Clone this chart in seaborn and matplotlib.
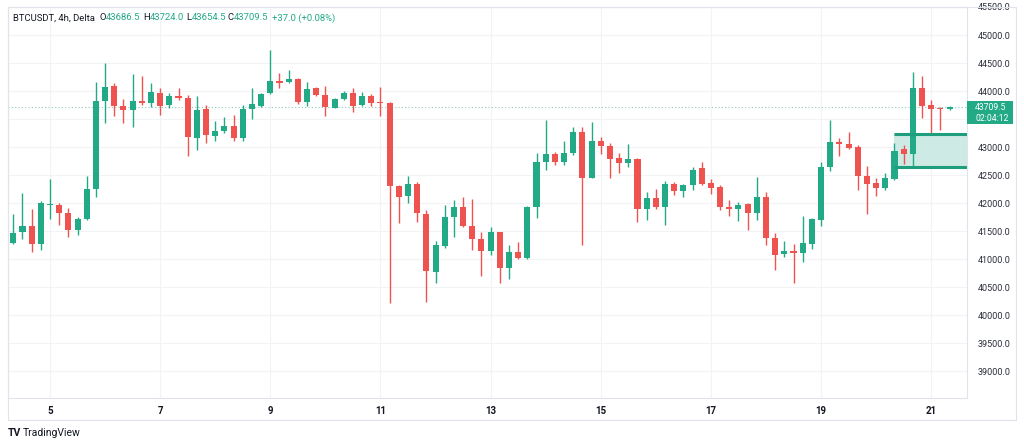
import numpy as np
import pandas as pd
import matplotlib
matplotlib.use("Agg")
import matplotlib.pyplot as plt
import seaborn as sns
from matplotlib.patches import Rectangle

#### Data (BTCUSDT 4h candles)

opens = [41285, 41482, 41589, 41268, 41964, 41964, 41821, 41518, 41714, 42250,
         43821, 44089, 43732, 43660, 43821, 43785, 43964, 43750, 43910, 43875,
         43160, 43678, 43196, 43285, 43375, 43160, 43678, 43732, 43964, 44178,
         44160, 44214, 43803, 44053, 43928, 43696, 43857, 43964, 43750, 43910,
         43803, 43785, 42303, 42125, 42339, 41803, 40768, 41232, 41750, 41928,
         41589, 41357, 41143, 41482, 40840, 41125, 41018, 41928, 42732, 42875,
         42732, 42893, 43268, 42446, 43107, 43018, 42803, 42714, 42785, 41893,
         42089, 41928, 42339, 42214, 42321, 42625, 42357, 42285, 41928, 41893,
         41982, 41821, 42107, 41375, 41089, 41143, 41107, 41268, 41696, 42643,
         43089, 43053, 43000, 42482, 42357, 42268, 42428, 42964, 42875, 44053,
         43750, 43700, 43686.5]
highs = [41803, 42178, 41893, 42035, 42428, 42000, 41911, 41750, 42482, 44160,
         44500, 44143, 43857, 44303, 44268, 44143, 44053, 43964, 44053, 43928,
         43910, 43750, 43464, 43535, 43571, 43750, 44053, 43964, 44732, 44321,
         44375, 44232, 44160, 44071, 44089, 43875, 44000, 44053, 43982, 43946,
         44071, 43800, 42321, 42482, 42375, 41875, 41321, 41964, 42053, 42107,
         42071, 41482, 41571, 41490, 41250, 41303, 41940, 42893, 43482, 42910,
         43107, 43357, 43357, 43446, 43178, 43071, 42893, 43053, 42803, 42196,
         42250, 42393, 42375, 42339, 42643, 42732, 42428, 42321, 42053, 42018,
         42000, 42464, 42196, 41464, 41321, 41268, 41768, 41732, 42732, 43482,
         43160, 43268, 43035, 42660, 42446, 42535, 43071, 43035, 44339, 44268,
         43839, 43714, 43724.0]
lows = [41268, 41357, 41125, 41161, 41714, 41607, 41393, 41428, 41696, 42107,
        43428, 43553, 43428, 43357, 43750, 43714, 43571, 43696, 43839, 42839,
        42946, 43071, 43107, 43250, 43107, 43107, 43500, 43720, 43946, 44053,
        44143, 43768, 43732, 43910, 43553, 43690, 43839, 43625, 43732, 43732,
        43553, 40214, 41643, 42000, 41661, 40232, 40571, 41196, 41393, 41571,
        41161, 40696, 41071, 40571, 40643, 41000, 41000, 41732, 42589, 42678,
        42678, 42857, 41250, 42440, 42875, 42446, 42536, 42643, 41661, 41696,
        41893, 41607, 42143, 42107, 42232, 42321, 42160, 41875, 41768, 41678,
        41518, 41696, 41250, 40804, 41036, 40571, 40946, 41178, 41589, 42571,
        42839, 42964, 42232, 41803, 42125, 42232, 42410, 42696, 42643, 43518,
        43250, 43303, 43654.5]
closes = [41464, 41589, 41268, 42000, 41982, 41821, 41518, 41714, 42250, 43821,
          44071, 43732, 43660, 43821, 43785, 43982, 43732, 43910, 43875, 43178,
          43660, 43214, 43285, 43375, 43160, 43678, 43768, 43946, 44178, 44143,
          44214, 43803, 44035, 43928, 43714, 43857, 43964, 43732, 43910, 43785,
          43785, 42303, 42107, 42339, 41821, 40786, 41250, 41750, 41928, 41589,
          41357, 41143, 41482, 40840, 41125, 41018, 41928, 42732, 42875, 42732,
          42893, 43268, 42446, 43107, 43018, 42785, 42714, 42785, 41893, 42089,
          41928, 42339, 42214, 42321, 42589, 42339, 42268, 41928, 41893, 41964,
          41821, 42107, 41375, 41071, 41143, 41107, 41285, 41714, 42643, 43089,
          43053, 42982, 42482, 42339, 42268, 42446, 42928, 42875, 44053, 43732,
          43678, 43672.5, 43709.5]

first_day = 4 + 8 / 24          # first candle: day 4, 08:00
day_ticks = [5, 7, 9, 11, 13, 15, 17, 19, 21]
price_ticks = list(range(39000, 45501, 500))
hidden_tick = 43500             # covered by the last price badge

zone_start = 96                 # candle index where the zone begins
zone_low, zone_high = 42640, 43240
last_price = 43709.5
countdown = "02:04:12"

UP = "#22a985"
DOWN = "#ef5350"
TEXT = "#131722"
LINE = "#e0e3eb"

W, H = 1024, 447

df = pd.DataFrame({"open": opens, "high": highs, "low": lows, "close": closes})
df["t"] = first_day + np.arange(len(df)) / 6
df["up"] = df["close"] >= df["open"]

#### Figure

sns.set_theme(style="white")
plt.rcParams['font.family'] = ['Roboto', 'DejaVu Sans']

fig = plt.figure(figsize=(W / 100, H / 100), dpi=100)
ax = fig.add_axes([8 / W, 49 / H, 959 / W, 391 / H])

xmin, xmax = 4.237, 21.65
cols = np.where(df["up"], UP, DOWN)
ax.vlines(df["t"], df["low"], df["high"], colors=cols, lw=1, zorder=2)
body = (df["close"] - df["open"]).abs().clip(lower=20)
ax.bar(df["t"], body, bottom=df[["open", "close"]].min(axis=1),
       width=0.11, color=cols, linewidth=0, zorder=3)

# zone box
t0 = df["t"].iloc[zone_start]
ax.add_patch(Rectangle((t0, zone_low), xmax - t0, zone_high - zone_low,
                       facecolor="#cdeae4", edgecolor="none", zorder=1))
ax.hlines([zone_low, zone_high], t0, xmax, colors="#1e9e7c", lw=2.2, zorder=4)

ax.axhline(last_price, color="#8cc9bd", ls=(0, (1, 2)), lw=0.8, zorder=1)

ax.set_xlim(xmin, xmax)
ax.set_ylim(38518, 45500)
ax.set_xticks(day_ticks)
ax.set_xticklabels([str(d) for d in day_ticks], fontsize=7, fontweight="bold", color=TEXT)
ax.set_yticks(price_ticks)
ax.set_yticklabels(["" if p == hidden_tick else f"{p:.1f}" for p in price_ticks],
                   fontsize=6.5, color="#2a2e39")
ax.yaxis.tick_right()
ax.tick_params(axis="y", length=0, pad=8)
ax.tick_params(axis="x", length=0, pad=6)
ax.grid(True, color="#f2f3f7", lw=0.8)
ax.set_axisbelow(True)
for s in ax.spines.values():
    s.set_color(LINE)
    s.set_linewidth(0.8)

# outer frame of the widget
fig.add_artist(Rectangle((8 / W, 1 - 420 / H), 1008 / W, 413 / H,
                         transform=fig.transFigure, fill=False,
                         edgecolor=LINE, lw=0.8))

# last price label on the price axis
fig.add_artist(Rectangle((967 / W, 1 - 124 / H), 46 / W, 23 / H,
                         transform=fig.transFigure, facecolor=UP,
                         edgecolor="none"))
fig.text(975 / W, 1 - 107 / H, f"{last_price:.1f}", color="white",
         fontsize=6.2, va="center")
fig.text(975 / W, 1 - 118.5 / H, countdown, color="white",
         fontsize=6.2, va="center")

# header legend
hy = 1 - 18 / H
fig.text(13 / W, hy, "BTCUSDT, 4h, Delta", fontsize=6.8, color=TEXT, va="center")
parts = [(99, "O", TEXT), (106, "43686.5", UP),
         (143, "H", TEXT), (150, "43724.0", UP),
         (186, "L", TEXT), (192, "43654.5", UP),
         (227, "C", TEXT), (234, "43709.5", UP),
         (272, "+37.0 (+0.08%)", UP)]
for x, s, c in parts:
    fig.text(x / W, hy, s, fontsize=6.8, color=c, va="center")

# watermark
fig.text(8 / W, 1 - 433 / H, "TV", fontsize=7.5, fontweight="bold",
         color=TEXT, va="center")
fig.text(23 / W, 1 - 433 / H, "TradingView", fontsize=7.5, color=TEXT, va="center")

fig.savefig("out.png", dpi=100)
